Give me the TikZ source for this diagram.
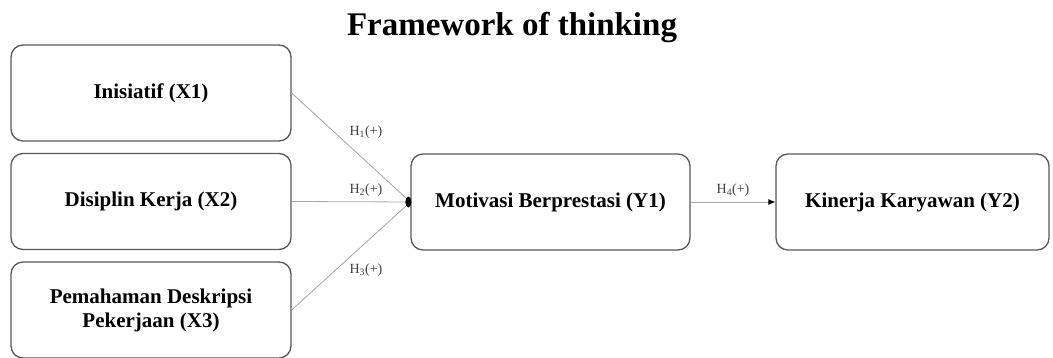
\documentclass[tikz,border=0pt]{standalone}
\usepackage{fontspec}
\setmainfont{Liberation Serif}
\usetikzlibrary{arrows.meta,shapes.geometric}
\begin{document}
\begin{tikzpicture}[x=1pt,y=-1pt,
  box/.style={draw=black!65, line width=1.3pt, rounded corners=12pt, fill=white,
    minimum width=280pt, minimum height=96pt, align=center, inner sep=0pt,
    font=\fontsize{21}{24}\selectfont\bfseries},
  link/.style={draw=black!35, line width=0.8pt},
  hlab/.style={font=\fontsize{14}{16}\selectfont, text=black!75, inner sep=1pt}]
\useasboundingbox (0,0) rectangle (1053,358);
\node[font=\fontsize{33}{38}\selectfont\bfseries] (title) at (512,28) {Framework of thinking};
\node[box] (x1) at (151,93) {Inisiatif (X1)};
\node[box] (x2) at (151,201.5) {Disiplin Kerja (X2)};
\node[box] (x3) at (151,310) {Pemahaman Deskripsi\\Pekerjaan (X3)};
\node[box, minimum width=279pt] (y1) at (550.5,202) {Motivasi Berprestasi (Y1)};
\node[box, minimum width=273pt] (y2) at (912.5,202) {Kinerja Karyawan (Y2)};
\coordinate (j) at (y1.west);
\draw[link] (x1.east) -- (j);
\draw[link] (x2.east) -- (j);
\draw[link] (x3.east) -- (j);
\node[ellipse, fill=black, minimum width=6pt, minimum height=11pt, inner sep=0pt] (dot) at ([xshift=-2pt]y1.west) {};
\draw[link, -{Latex[length=7pt,width=6pt,black]}] (y1.east) -- (y2.west);
\node[hlab] (h1) at (366,132) {H\textsubscript{1}(+)};
\node[hlab] (h2) at (366,190) {H\textsubscript{2}(+)};
\node[hlab] (h3) at (366,270) {H\textsubscript{3}(+)};
\node[hlab] (h4) at (733,190) {H\textsubscript{4}(+)};
\end{tikzpicture}
\end{document}
